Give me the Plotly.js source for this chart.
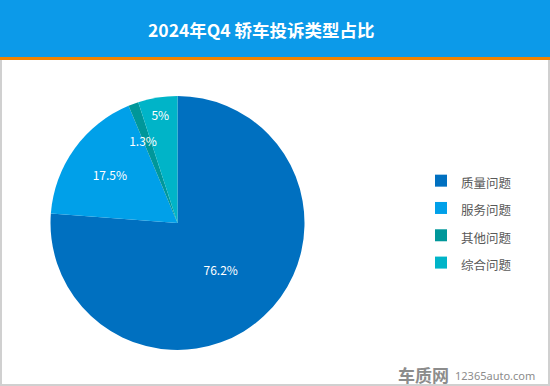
<!DOCTYPE html>
<html><head><meta charset="utf-8">
<script src="https://cdn.plot.ly/plotly-3.0.1.min.js"></script>
<style>html,body{margin:0;padding:0;background:#fff;}#chart{width:550px;height:386px;}</style>
</head><body><div id="chart"></div>
<script>
const categories = ['质量问题', '服务问题', '其他问题', '综合问题'];
const values = [76.2, 17.5, 1.3, 5];
const colors = ['#0070C0', '#00A0E9', '#00979A', '#00B4C8'];
const titleText = '2024年Q4 轿车投诉类型占比';

const labelFont = {color: '#ffffff', size: 12, family: 'Noto Sans CJK SC, Noto Sans, sans-serif'};
const legendNames = categories.map(c => '<span style="font-size:12.5px">' + c + '</span>');

const trace = {
  type: 'pie',
  labels: legendNames,
  values: values,
  marker: {colors: colors, line: {width: 0}},
  sort: false,
  direction: 'clockwise',
  rotation: 0,
  texttemplate: '%{value}%',
  textposition: ['inside', 'inside', 'none', 'inside'],
  insidetextorientation: 'horizontal',
  textfont: labelFont,
  hoverinfo: 'none',
  domain: {x: [50/550, 305/550], y: [36/386, 290/386]}
};

// transparent inner pie used only to place the small-slice label
const labelTrace = {
  type: 'pie',
  labels: legendNames,
  values: values,
  marker: {colors: ['rgba(0,0,0,0)','rgba(0,0,0,0)','rgba(0,0,0,0)','rgba(0,0,0,0)'], line: {width: 0}},
  sort: false,
  direction: 'clockwise',
  rotation: 8,
  texttemplate: '%{value}%',
  textposition: ['none', 'none', 'outside', 'none'],
  outsidetextfont: labelFont,
  automargin: false,
  showlegend: false,
  hoverinfo: 'none',
  domain: {x: [101/550, 254/550], y: [86.5/386, 239.5/386]}
};

const layout = {
  width: 550, height: 386,
  margin: {l: 0, r: 0, t: 0, b: 0},
  paper_bgcolor: '#ffffff',
  showlegend: true,
  legend: {
    x: 421/550, y: 1 - 222/386, xanchor: 'left', yanchor: 'middle',
    font: {size: 18.7, color: '#595959', family: 'Noto Sans CJK SC, sans-serif'},
    itemwidth: 30, tracegroupgap: 0,
    bgcolor: 'rgba(0,0,0,0)'
  },
  shapes: [
    {type: 'rect', xref: 'paper', yref: 'paper', x0: 0, x1: 1, y0: 1 - 57/386, y1: 1, fillcolor: '#0C9AE9', line: {width: 0}, layer: 'below'},
    {type: 'rect', xref: 'paper', yref: 'paper', x0: 0, x1: 1, y0: 1 - 60/386, y1: 1 - 57/386, fillcolor: '#F08300', line: {width: 0}, layer: 'below'},
    {type: 'line', xref: 'paper', yref: 'paper', x0: 1/550, x1: 1/550, y0: 0, y1: 1 - 60/386, line: {color: '#D0D0D0', width: 2}},
    {type: 'line', xref: 'paper', yref: 'paper', x0: 549/550, x1: 549/550, y0: 0, y1: 1 - 60/386, line: {color: '#D0D0D0', width: 2}},
    {type: 'line', xref: 'paper', yref: 'paper', x0: 0, x1: 1, y0: 1/386, y1: 1/386, line: {color: '#D0D0D0', width: 2}}
  ],
  annotations: [
    {text: '<b>' + titleText + '</b>', xref: 'paper', yref: 'paper', x: 261/550, y: 1 - 29/386, xanchor: 'center', yanchor: 'middle', showarrow: false,
     font: {size: 17.5, color: '#ffffff', family: 'Noto Sans CJK SC, sans-serif'}},
    {text: '<b>车质网</b>', xref: 'paper', yref: 'paper', x: 451/550, y: 1 - 374/386, xanchor: 'right', yanchor: 'middle', showarrow: false,
     font: {size: 17, color: '#8C8C8C', family: 'Noto Sans CJK SC, sans-serif'}},
    {text: '12365auto.com', xref: 'paper', yref: 'paper', x: 453/550, y: 1 - 375/386, xanchor: 'left', yanchor: 'middle', showarrow: false,
     font: {size: 11, color: '#8C8C8C', family: 'Noto Sans, sans-serif'}}
  ]
};

Plotly.newPlot('chart', [trace, labelTrace], layout, {displayModeBar: false, staticPlot: true});
</script></body></html>
